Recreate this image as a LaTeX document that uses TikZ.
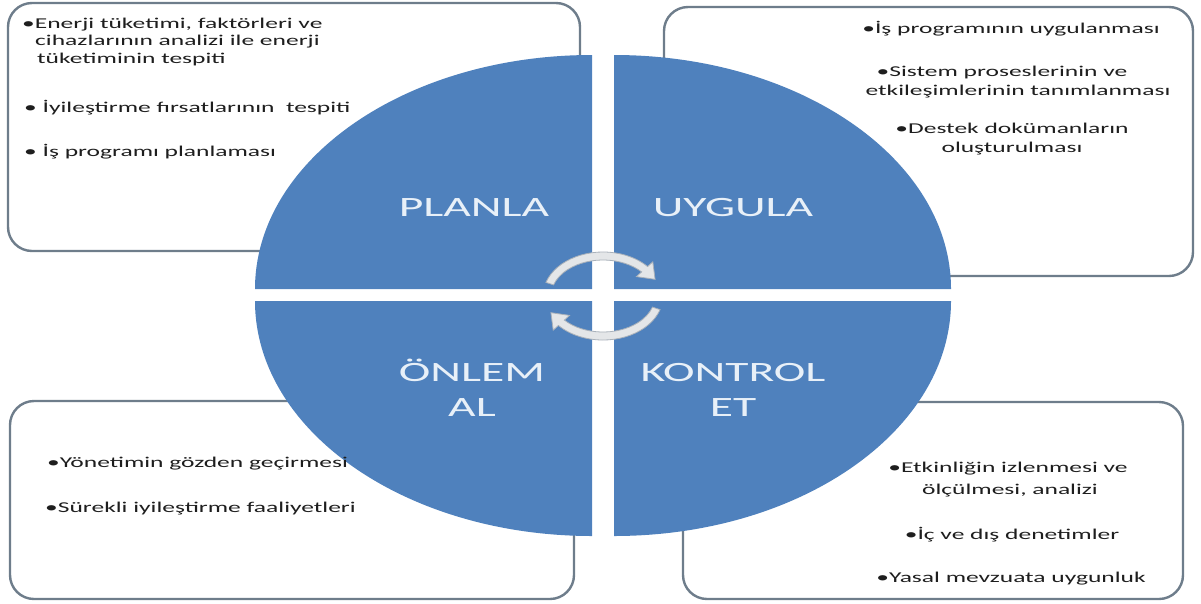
\documentclass[tikz,border=0pt]{standalone}
\usepackage{fontspec}
\setmainfont{Carlito}[FakeStretch=1.7]
\usetikzlibrary{calc}
\definecolor{qblue}{HTML}{4F81BD}
\definecolor{boxline}{HTML}{6E7D8B}
\definecolor{lbl}{HTML}{E8F0F8}
\definecolor{arrfill}{HTML}{E4E6E8}
\definecolor{arrline}{HTML}{A9B1BA}
\definecolor{txt}{HTML}{1E1E1E}
\begin{document}
\begin{tikzpicture}[x=1pt,y=-1pt,
  box/.style={draw=boxline, line width=2.4pt, fill=white, rounded corners=24pt},
  quad/.style={fill=qblue},
  biglbl/.style={text=lbl, font=\fontsize{28}{36}\selectfont, inner sep=0pt},
  smalltxt/.style={text=txt, font=\fontsize{15}{18}\selectfont, inner sep=0pt},
  arr/.style={fill=arrfill, draw=arrline, line width=0.8pt}]
\useasboundingbox (0,0) rectangle (1201,603);
% boxes
\draw[box] (8,3) rectangle (580,251);
\draw[box] (664,7) rectangle (1193,276);
\draw[box] (10,401) rectangle (574,599);
\draw[box] (683,402) rectangle (1183,599);
% quadrants
\fill[quad] (592,289) -- (255,289) arc[start angle=180, end angle=270, x radius=337, y radius=234] -- cycle;
\fill[quad] (614,289) -- (614,55) arc[start angle=270, end angle=360, x radius=337, y radius=234] -- cycle;
\fill[quad] (592,301) -- (592,536) arc[start angle=90, end angle=180, x radius=337, y radius=235] -- cycle;
\fill[quad] (614,301) -- (951,301) arc[start angle=0, end angle=90, x radius=337, y radius=235] -- cycle;
% cycle arrows
\coordinate (c) at (603,296);
\path[arr] ($(c)+(198:60 and 44)$) arc[start angle=198, end angle=318, x radius=60, y radius=44]
  -- ($(c)+(318:67 and 51)$) -- ($(c)+(336:57 and 41)$) -- ($(c)+(318:45 and 29)$)
  -- ($(c)+(318:52 and 36)$) arc[start angle=318, end angle=198, x radius=52, y radius=36] -- cycle;
\path[arr] ($(c)+(18:60 and 44)$) arc[start angle=18, end angle=138, x radius=60, y radius=44]
  -- ($(c)+(138:67 and 51)$) -- ($(c)+(156:57 and 41)$) -- ($(c)+(138:45 and 29)$)
  -- ($(c)+(138:52 and 36)$) arc[start angle=138, end angle=18, x radius=52, y radius=36] -- cycle;
% big labels
\node[biglbl, anchor=base] (plan) at (474,216) {PLANLA};
\node[biglbl, anchor=base] (uyg) at (733,216) {UYGULA};
\node[biglbl, anchor=base] (onl1) at (472,381) {ÖNLEM};
\node[biglbl, anchor=base] (onl2) at (472,416) {AL};
\node[biglbl, anchor=base] (kon1) at (733,381) {KONTROL};
\node[biglbl, anchor=base] (kon2) at (733,416) {ET};
% top-left text
\node[smalltxt, anchor=base west] (tla) at (22,28) {•Enerji tüketimi, faktörleri ve};
\node[smalltxt, anchor=base west] (tlb) at (35,45) {cihazlarının analizi ile enerji};
\node[smalltxt, anchor=base west] (tlc) at (37,63) {tüketiminin tespiti};
\node[smalltxt, anchor=base west] (tld) at (24,112) {• İyileştirme fırsatlarının\ \ tespiti};
\node[smalltxt, anchor=base west] (tle) at (24,156) {• İş programı planlaması};
% top-right text
\node[smalltxt, anchor=base] (tra) at (1011,33) {•İş programının uygulanması};
\node[smalltxt, anchor=base] (trb) at (1002,76) {•Sistem proseslerinin ve};
\node[smalltxt, anchor=base] (trc) at (1018,95) {etkileşimlerinin tanımlanması};
\node[smalltxt, anchor=base] (trd) at (1012,133) {•Destek dokümanların};
\node[smalltxt, anchor=base] (tre) at (1012,152) {oluşturulması};
% bottom-left text
\node[smalltxt, anchor=base west] (bla) at (47,467) {•Yönetimin gözden geçirmesi};
\node[smalltxt, anchor=base west] (blb) at (45,512) {•Sürekli iyileştirme faaliyetleri};
% bottom-right text
\node[smalltxt, anchor=base] (bra) at (1008,472) {•Etkinliğin izlenmesi ve};
\node[smalltxt, anchor=base] (brb) at (1010,494) {ölçülmesi, analizi};
\node[smalltxt, anchor=base] (brc) at (1012,539) {•İç ve dış denetimler};
\node[smalltxt, anchor=base] (brd) at (1011,582) {•Yasal mevzuata uygunluk};
\end{tikzpicture}
\end{document}
